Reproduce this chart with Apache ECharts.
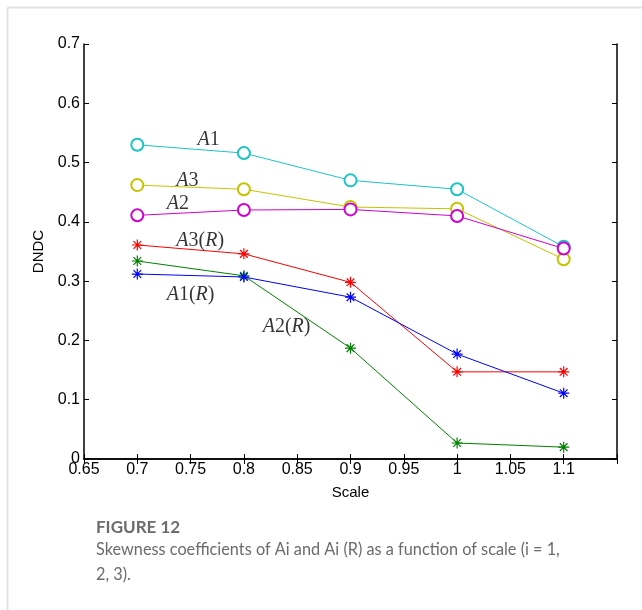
<!DOCTYPE html>
<html>
<head>
<meta charset="utf-8">
<script src="https://cdn.jsdelivr.net/npm/echarts@6/dist/echarts.min.js"></script>
<style>
  html, body { margin: 0; padding: 0; background: #fff; }
  #main { width: 642px; height: 610px; }
</style>
</head>
<body>
<div id="main"></div>
<script>
// scale values on the x axis
var scales = [0.7, 0.8, 0.9, 1.0, 1.1];

// DNDC skewness per series
var a1 = [0.530, 0.516, 0.470, 0.455, 0.358];
var a2 = [0.411, 0.420, 0.421, 0.410, 0.355];
var a3 = [0.462, 0.455, 0.425, 0.422, 0.337];
var a1R = [0.312, 0.307, 0.273, 0.177, 0.111];
var a2R = [0.334, 0.309, 0.187, 0.027, 0.020];
var a3R = [0.361, 0.346, 0.298, 0.147, 0.147];

// in-plot labels: [x, y, text]
var labelPos = [
    [0.767, 0.538, '{i|A}{n|1}'],
    [0.747, 0.469, '{i|A}{n|3}'],
    [0.738, 0.430, '{i|A}{n|2}'],
    [0.759, 0.368, '{i|A}{n|3(}{i|R}{n|)}'],
    [0.750, 0.277, '{i|A}{n|1(}{i|R}{n|)}'],
    [0.840, 0.223, '{i|A}{n|2(}{i|R}{n|)}']
];

var star = 'path://M0,-1L0,1M-1,0L1,0M-0.7,-0.7L0.7,0.7M-0.7,0.7L0.7,-0.7';

function pairs(ys) {
    var out = [];
    for (var i = 0; i < scales.length; i++) {
        out.push([scales[i], ys[i]]);
    }
    return out;
}

function lineSeries(name, ys, color, isStar) {
    return {
        name: name,
        type: 'line',
        data: pairs(ys),
        symbol: isStar ? star : 'emptyCircle',
        symbolSize: isStar ? 11 : 12,
        showAllSymbol: true,
        animation: false,
        lineStyle: { color: color, width: 1 },
        itemStyle: isStar
            ? { color: color, borderColor: color, borderWidth: 1.2 }
            : { color: color, borderColor: color, borderWidth: 0.9 }
    };
}

var axisFont = { color: '#000', fontSize: 15, fontFamily: 'Liberation Sans' };
var black = { lineStyle: { color: '#000', width: 1.5 } };

var chart = echarts.init(document.getElementById('main'));

var option = {
    animation: false,
    grid: { left: 84, right: 25, top: 44, bottom: 151 },
    xAxis: [{
        type: 'value', min: 0.65, max: 1.15, interval: 0.05,
        name: 'Scale', nameLocation: 'middle', nameGap: 26,
        nameTextStyle: axisFont,
        axisLine: black,
        axisTick: { inside: true, length: 5, lineStyle: { color: '#000' } },
        axisLabel: {
            color: '#000', fontSize: 16, fontFamily: 'Liberation Sans', margin: 3,
            formatter: function (v) { return v > 1.12 ? '' : String(+v.toFixed(2)); }
        },
        splitLine: { show: false }
    }, {
        type: 'value', min: 0.65, max: 1.15, interval: 0.05, position: 'top',
        axisLine: black,
        axisTick: { inside: true, length: 5, lineStyle: { color: '#000' } },
        axisLabel: { show: false }, splitLine: { show: false }
    }],
    yAxis: [{
        type: 'value', min: 0, max: 0.7, interval: 0.1,
        name: 'DNDC', nameLocation: 'middle', nameGap: 24,
        nameTextStyle: axisFont,
        axisLine: black,
        axisTick: { inside: true, length: 5, lineStyle: { color: '#000' } },
        axisLabel: {
            color: '#000', fontSize: 16, fontFamily: 'Liberation Sans', margin: 4,
            formatter: function (v) { return String(+v.toFixed(2)); }
        },
        splitLine: { show: false }
    }, {
        type: 'value', min: 0, max: 0.7, interval: 0.1, position: 'right',
        axisLine: black,
        axisTick: { inside: true, length: 5, lineStyle: { color: '#000' } },
        axisLabel: { show: false }, splitLine: { show: false }
    }],
    series: [
        lineSeries('A1', a1, '#1cc4c4', false),
        lineSeries('A3', a3, '#c4c400', false),
        lineSeries('A2', a2, '#d000d0', false),
        lineSeries('A3(R)', a3R, '#ff0000', true),
        lineSeries('A2(R)', a2R, '#008000', true),
        lineSeries('A1(R)', a1R, '#0000ff', true),
        {
            type: 'scatter',
            data: labelPos,
            symbolSize: 0,
            silent: true,
            label: {
                show: true,
                position: 'inside',
                formatter: function (p) { return p.data[2]; },
                rich: {
                    i: { fontFamily: 'Liberation Serif', fontStyle: 'italic', fontSize: 20, color: '#000' },
                    n: { fontFamily: 'Liberation Serif', fontSize: 20, color: '#000' }
                }
            }
        }
    ],
    graphic: [
        { type: 'line', shape: { x1: 7.5, y1: 7.5, x2: 642, y2: 7.5 }, style: { stroke: '#e2e2e2', lineWidth: 2 } },
        { type: 'line', shape: { x1: 7.5, y1: 7.5, x2: 7.5, y2: 610 }, style: { stroke: '#e2e2e2', lineWidth: 2 } },
        {
            type: 'text', left: 96, top: 519,
            style: { text: 'FIGURE 12', fontFamily: 'Lato', fontWeight: 'bold', fontSize: 17, fill: '#6b6b6b' }
        },
        {
            type: 'text', left: 96, top: 537,
            style: {
                text: 'Skewness coefficients of Ai and Ai (R) as a function of scale (i = 1,\n2, 3).',
                fontFamily: 'Lato', fontSize: 16.3, lineHeight: 25, fill: '#6b6b6b'
            }
        }
    ]
};

chart.setOption(option);
</script>
</body>
</html>
